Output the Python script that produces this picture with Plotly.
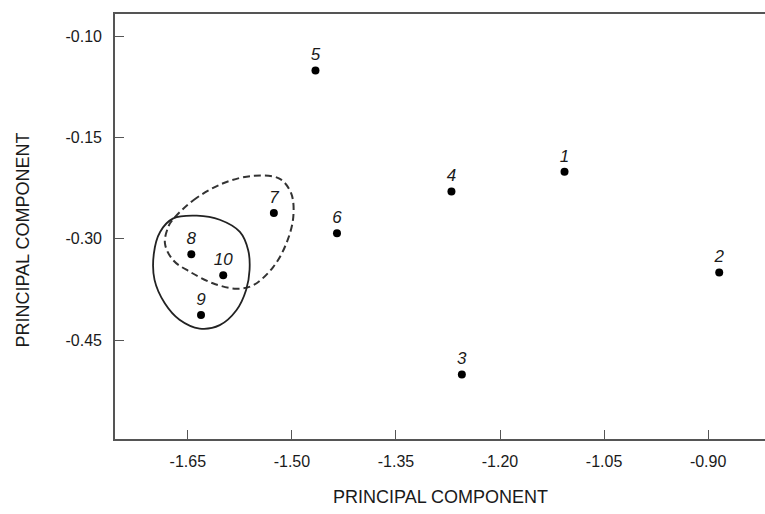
import plotly.graph_objects as go

# Data
point_labels = ["1", "2", "3", "4", "5", "6", "7", "8", "9", "10"]
pc_x = [-1.107, -0.884, -1.255, -1.270, -1.466, -1.435, -1.526, -1.645, -1.631, -1.599]
pc_y = [-0.201, -0.350, -0.501, -0.230, -0.051, -0.292, -0.262, -0.323, -0.413, -0.354]

# dashed contour (group 7, 8, 10)
dash_x = [-1.671, -1.642, -1.599, -1.556, -1.518, -1.501, -1.498, -1.508, -1.527, -1.556,
          -1.580, -1.614, -1.647, -1.671, -1.683, -1.678]
dash_y = [-0.271, -0.243, -0.218, -0.207, -0.211, -0.233, -0.268, -0.307, -0.342, -0.369,
          -0.374, -0.366, -0.349, -0.332, -0.307, -0.282]

# solid contour (group 8, 9, 10)
solid_x = [-1.671, -1.637, -1.604, -1.575, -1.563, -1.561, -1.566, -1.580, -1.604, -1.633,
           -1.662, -1.683, -1.698, -1.699, -1.690]
solid_y = [-0.270, -0.266, -0.272, -0.290, -0.317, -0.346, -0.376, -0.406, -0.428, -0.433,
           -0.420, -0.396, -0.361, -0.322, -0.290]

x_tickvals = [-1.65, -1.50, -1.35, -1.20, -1.05, -0.90]
x_ticktext = ["-1.65", "-1.50", "-1.35", "-1.20", "-1.05", "-0.90"]
y_tickvals = [0.0, -0.15, -0.30, -0.45]
y_ticktext = ["-0.10", "-0.15", "-0.30", "-0.45"]

FONT = "Liberation Sans, Arial, Helvetica, sans-serif"
INK = "#1a1a1a"

fig = go.Figure()

fig.add_trace(go.Scatter(
    x=dash_x + dash_x[:1], y=dash_y + dash_y[:1], mode="lines",
    line=dict(color="#333333", width=2, dash="7px,4px", shape="spline", smoothing=1.0),
    hoverinfo="skip", showlegend=False))

fig.add_trace(go.Scatter(
    x=solid_x + solid_x[:1], y=solid_y + solid_y[:1], mode="lines",
    line=dict(color="#222222", width=1.8, shape="spline", smoothing=1.0),
    hoverinfo="skip", showlegend=False))

fig.add_trace(go.Scatter(
    x=pc_x, y=pc_y, mode="markers+text", text=point_labels,
    textposition="top center",
    textfont=dict(family=FONT, size=17, color=INK, style="italic"),
    marker=dict(color="#000000", size=8),
    showlegend=False))

axis_common = dict(
    showgrid=False, zeroline=False, showline=True, linecolor="#555555", linewidth=1.6,
    ticks="inside", ticklen=9, tickwidth=1.3, tickcolor="#555555",
    tickfont=dict(family=FONT, size=16, color=INK),
)

fig.update_xaxes(range=[-1.755, -0.818], tickvals=x_tickvals, ticktext=x_ticktext,
                 mirror=True, ticklabelstandoff=7, **axis_common)
fig.update_yaxes(range=[-0.5965, 0.0326], tickvals=y_tickvals, ticktext=y_ticktext,
                 mirror=False, ticklabelstandoff=8, **axis_common)

fig.add_annotation(text="PRINCIPAL COMPONENT", xref="paper", yref="paper",
                   x=0.5, y=-0.136, yanchor="middle", xanchor="center", showarrow=False,
                   font=dict(family=FONT, size=18, color=INK))
fig.add_annotation(text="PRINCIPAL COMPONENT", xref="paper", yref="paper",
                   x=-0.143, y=0.467, xanchor="center", yanchor="middle", textangle=-90,
                   showarrow=False, font=dict(family=FONT, size=18, color=INK))

fig.update_layout(
    width=765, height=514,
    margin=dict(l=115, r=0, t=14, b=75),
    paper_bgcolor="white", plot_bgcolor="white",
)

fig.write_html("out.html")
